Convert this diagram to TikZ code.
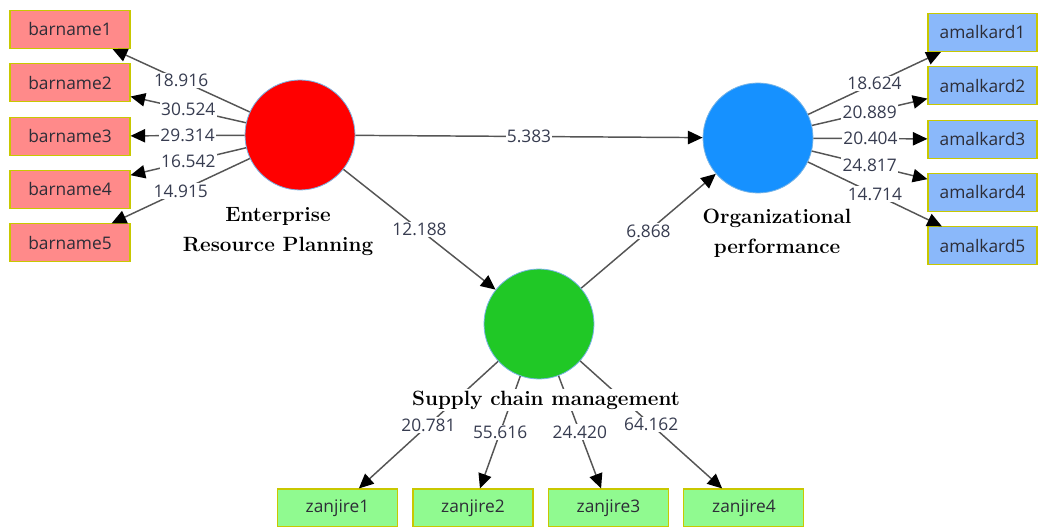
\documentclass[tikz,border=0pt]{standalone}
\usepackage{fontspec}
\usepackage{xcolor}
\usepackage{tikz}
\usetikzlibrary{arrows.meta, positioning}
\newfontfamily\labelfont{Open Sans}
\definecolor{erpred}{RGB}{255,0,0}
\definecolor{opblue}{RGB}{22,145,255}
\definecolor{scmgreen}{RGB}{32,200,38}
\definecolor{rimblue}{RGB}{120,180,230}
\definecolor{erpbox}{RGB}{255,138,138}
\definecolor{opbox}{RGB}{138,184,250}
\definecolor{scmbox}{RGB}{144,250,144}
\definecolor{boxrim}{RGB}{200,200,0}
\definecolor{linegray}{RGB}{85,85,85}
\definecolor{textgray}{RGB}{45,45,55}
\definecolor{numgray}{RGB}{55,60,80}
\tikzstyle{construct} = [circle, minimum size=82.5pt, inner sep=0pt, draw=rimblue, line width=0.6pt]
\tikzstyle{itemL} = [rectangle, minimum width=90pt, minimum height=28.5pt, draw=boxrim, line width=0.8pt, fill=erpbox, text=textgray, font=\labelfont\fontsize{13}{15}\selectfont]
\tikzstyle{itemR} = [itemL, minimum width=81.75pt, fill=opbox]
\tikzstyle{itemB} = [itemL, fill=scmbox]
\tikzstyle{title} = [align=center, font=\bfseries\fontsize{15.5}{22.5}\selectfont, text=black]
\tikzstyle{load} = [fill=white, inner sep=1pt, text=numgray, font=\labelfont\fontsize{13}{15}\selectfont]
\tikzstyle{arrow} = [draw=linegray, line width=1.1pt, -{Triangle[length=11pt, width=10pt, color=black]}]

\begin{document}
\begin{tikzpicture}[x=0.75pt, y=-0.75pt, node distance=40pt]
        \useasboundingbox (0,0) rectangle (1038,527);

        % Constructs
        \node (erp) [construct, fill=erpred] at (300,135) {};
        \node (op) [construct, fill=opblue] at (758,138) {};
        \node (scm) [construct, fill=scmgreen] at (539,324) {};

        % ERP items
        \node (b1) [itemL] at (70,29.5) {barname1};
        \node (b2) [itemL, below of=b1] {barname2};
        \node (b3) [itemL, below of=b2] {barname3};
        \node (b4) [itemL, below of=b3] {barname4};
        \node (b5) [itemL, below of=b4] {barname5};

        % Performance items
        \node (a1) [itemR] at (982.5,32.5) {amalkard1};
        \node (a2) [itemR, below of=a1] {amalkard2};
        \node (a3) [itemR, below of=a2] {amalkard3};
        \node (a4) [itemR, below of=a3] {amalkard4};
        \node (a5) [itemR, below of=a4] {amalkard5};

        % Supply chain items
        \node (z1) [itemB] at (337.5,508) {zanjire1};
        \node (z2) [itemB, right of=z1, xshift=61.6pt] {zanjire2};
        \node (z3) [itemB, right of=z2, xshift=61.6pt] {zanjire3};
        \node (z4) [itemB, right of=z3, xshift=61.6pt] {zanjire4};

        % Arrows
        \draw [arrow] (erp) -- node[load] {18.916} (b1);
        \draw [arrow] (erp) -- node[load] {30.524} (b2);
        \draw [arrow] (erp) -- node[load] {29.314} (b3);
        \draw [arrow] (erp) -- node[load] {16.542} (b4);
        \draw [arrow] (erp) -- node[load] {14.915} (b5);
        \draw [arrow] (op) -- node[load] {18.624} (a1);
        \draw [arrow] (op) -- node[load] {20.889} (a2);
        \draw [arrow] (op) -- node[load] {20.404} (a3);
        \draw [arrow] (op) -- node[load] {24.817} (a4);
        \draw [arrow] (op) -- node[load] {14.714} (a5);
        \draw [arrow] (erp) -- node[load] {5.383} (op);
        \draw [arrow] (erp) -- node[load] {12.188} (scm);
        \draw [arrow] (scm) -- node[load] {6.868} (op);
        \draw [arrow] (scm) -- node[load] {20.781} (z1);
        \draw [arrow] (scm) -- node[load] {55.616} (z2);
        \draw [arrow] (scm) -- node[load] {24.420} (z3);
        \draw [arrow] (scm) -- node[load] {64.162} (z4);

        % Construct names
        \node (erpname) [title] at (278,232) {Enterprise\\Resource Planning};
        \node (opname) [title] at (777,233) {Organizational\\performance};
        \node (scmname) [title, fill=white, inner sep=1pt] at (546,400) {Supply chain management};
      \end{tikzpicture}
\end{document}
